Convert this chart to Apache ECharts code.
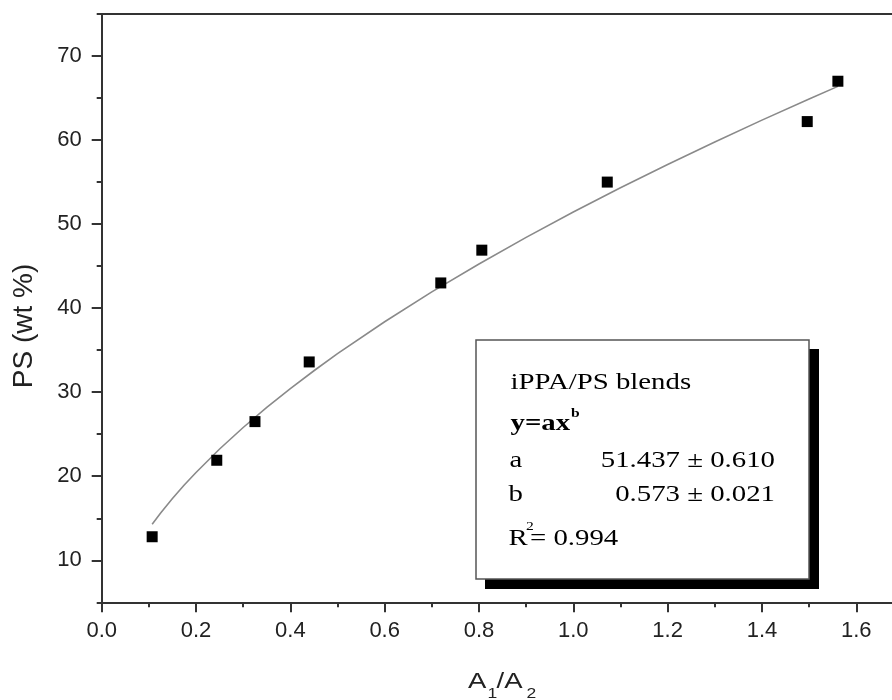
<!DOCTYPE html>
<html>
<head>
<meta charset="utf-8">
<script src="https://cdn.jsdelivr.net/npm/echarts@6/dist/echarts.min.js"></script>
<style>
  html, body { margin: 0; padding: 0; background: #fff; }
  #chart { width: 892px; height: 700px; }
</style>
</head>
<body>
<div id="chart"></div>
<script>
// Measured blend composition versus the A1/A2 absorbance ratio
const ratioA1A2 = [0.107, 0.244, 0.325, 0.440, 0.719, 0.806, 1.072, 1.496, 1.561];
const psWeight  = [12.8, 21.9, 26.5, 33.6, 43.0, 46.9, 55.0, 62.2, 67.0];

// Power-law fit curve, sampled along its trace
const fitX = [0.107, 0.125, 0.15, 0.175, 0.2, 0.25, 0.3, 0.35, 0.4, 0.45, 0.5, 0.6, 0.7, 0.8, 0.9, 1.0, 1.1, 1.2, 1.3, 1.4, 1.5, 1.561];
const fitY = [14.29, 15.63, 17.35, 18.95, 20.45, 23.24, 25.80, 28.19, 30.43, 32.55, 34.58, 38.38, 41.93, 45.26, 48.42, 51.44, 54.32, 57.10, 59.78, 62.37, 64.89, 66.39];

// Tick positions
const yMajorTicks = [10, 20, 30, 40, 50, 60, 70];
const yMinorTicks = [5, 15, 25, 35, 45, 55, 65, 75];

// Fit summary text
const legendTitle = 'iPPA/PS blends';
const fitA = '51.437 \u00b1 0.610';
const fitB = '0.573 \u00b1 0.021';
const fitR2 = '= 0.994';

const AXIS = '#333';
const TXT = '#222';
const SANS = '"Liberation Sans", Arial, sans-serif';
const SERIF = '"Liberation Serif", "Times New Roman", serif';

const chart = echarts.init(document.getElementById('chart'), null, { renderer: 'canvas' });

function serifText(x, y, text, size, opts) {
  opts = opts || {};
  return {
    type: 'text',
    x: x, y: y,
    scaleX: opts.scaleX || 1.2,
    z: 20,
    style: {
      text: text,
      x: 0, y: 0,
      fontFamily: SERIF,
      fontSize: size,
      fontWeight: opts.bold ? 'bold' : 'normal',
      fill: '#000',
      align: opts.align || 'left',
      verticalAlign: 'middle'
    }
  };
}

function sansText(x, y, text, size, scaleX) {
  return {
    type: 'text',
    x: x, y: y,
    scaleX: scaleX || 1,
    z: 20,
    style: {
      text: text, x: 0, y: 0,
      fontFamily: SANS, fontSize: size,
      fill: TXT, align: 'left', verticalAlign: 'middle'
    }
  };
}

const option = {
  backgroundColor: '#fff',
  animation: false,
  grid: {
    left: 101.7, top: 14, width: 848.9, height: 588.3,
    outerBoundsMode: 'none'
  },
  xAxis: [
    {
      type: 'value', position: 'bottom',
      min: 0, max: 1.8, interval: 0.2,
      axisLine: { show: true, onZero: false, lineStyle: { color: AXIS, width: 2 } },
      axisTick: { show: true, length: 10, lineStyle: { color: AXIS, width: 2 } },
      minorTick: { show: true, splitNumber: 2, length: 5, lineStyle: { color: AXIS, width: 2 } },
      axisLabel: {
        fontSize: 22, fontFamily: SANS, color: TXT, margin: 18,
        formatter: v => v.toFixed(1)
      },
      splitLine: { show: false },
      minorSplitLine: { show: false }
    },
    {
      type: 'value', position: 'top',
      min: 0, max: 1.8, interval: 0.2,
      axisLine: { show: true, onZero: false, lineStyle: { color: AXIS, width: 2 } },
      axisTick: { show: false },
      axisLabel: { show: false },
      splitLine: { show: false }
    }
  ],
  yAxis: [
    {
      type: 'value', position: 'left',
      min: 5, max: 75, interval: 5,
      axisLine: { show: true, onZero: false, lineStyle: { color: AXIS, width: 2 } },
      axisTick: { show: true, length: 10, customValues: yMajorTicks, lineStyle: { color: AXIS, width: 2 } },
      axisLabel: {
        customValues: yMajorTicks,
        fontSize: 22, fontFamily: SANS, color: TXT, margin: 20
      },
      splitLine: { show: false }
    },
    {
      type: 'value', position: 'left',
      min: 5, max: 75, interval: 5,
      axisLine: { show: false },
      axisTick: { show: true, length: 5, customValues: yMinorTicks, lineStyle: { color: AXIS, width: 2 } },
      axisLabel: { show: false },
      splitLine: { show: false }
    }
  ],
  series: [
    {
      name: 'fit',
      type: 'line',
      xAxisIndex: 0, yAxisIndex: 0,
      data: fitX.map((x, i) => [x, fitY[i]]),
      smooth: false,
      showSymbol: false,
      lineStyle: { color: '#8a8a8a', width: 1.6, join: 'round' },
      z: 2
    },
    {
      name: 'PS',
      type: 'scatter',
      xAxisIndex: 0, yAxisIndex: 0,
      data: ratioA1A2.map((x, i) => [x, psWeight[i]]),
      symbol: 'rect',
      symbolSize: 11,
      itemStyle: { color: '#000', opacity: 1 },
      z: 3
    }
  ],
  graphic: [
    // axis titles
    {
      type: 'text',
      x: 24, y: 326,
      rotation: Math.PI / 2,
      z: 20,
      style: {
        text: 'PS (wt %)', x: 0, y: 0,
        fontFamily: SANS, fontSize: 28, fill: TXT,
        align: 'center', verticalAlign: 'middle'
      }
    },
    sansText(468, 682, 'A', 22, 1.25),
    sansText(487.5, 694, '1', 14, 1.25),
    sansText(496.5, 682, '/A', 22, 1.25),
    sansText(526.5, 694, '2', 14, 1.25),

    // fit summary box with drop shadow
    {
      type: 'rect', z: 10,
      shape: { x: 485, y: 349, width: 334, height: 240 },
      style: { fill: '#000' }
    },
    {
      type: 'rect', z: 11,
      shape: { x: 476, y: 340, width: 333, height: 239 },
      style: { fill: '#fff', stroke: '#555', lineWidth: 1.5 }
    },
    serifText(510.5, 382.6, legendTitle, 24),
    serifText(510.5, 423.6, 'y=ax', 24, { bold: true }),
    serifText(571, 413.5, 'b', 13, { bold: true }),
    serifText(509.5, 461.2, 'a', 24),
    serifText(775, 461.2, fitA, 24, { align: 'right' }),
    serifText(508.5, 495.2, 'b', 24),
    serifText(775, 495.2, fitB, 24, { align: 'right' }),
    serifText(508.5, 538.6, 'R', 24),
    serifText(526, 527, '2', 13),
    serifText(530, 538.6, fitR2, 24)
  ]
};

chart.setOption(option);
</script>
</body>
</html>
